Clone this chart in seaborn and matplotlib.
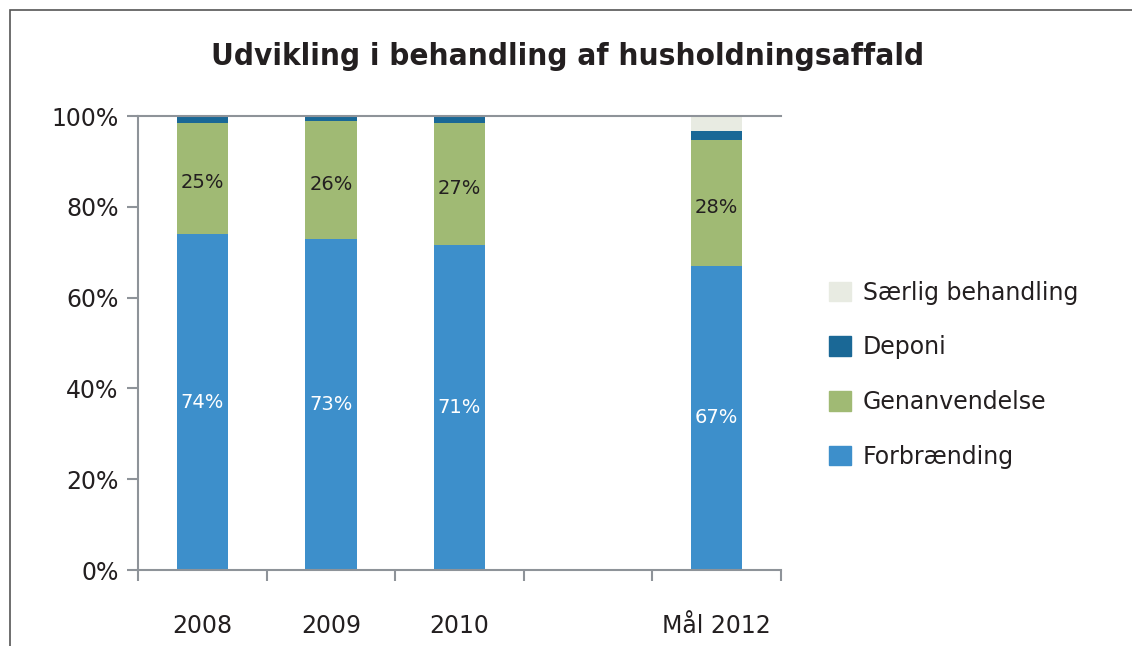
import matplotlib.pyplot as plt
import matplotlib.patches as mpatches
import pandas as pd
import seaborn as sns

# Data (percent of household waste)
years = ["2008", "2009", "2010", "", "Mål 2012"]
forbraending = [74, 73, 71.5, None, 67]
genanvendelse = [24.5, 25.9, 27, None, 27.7]
deponi = [1.3, 0.9, 1.3, None, 2.1]
saerlig = [0.2, 0.2, 0.2, None, 3.2]
labels_forb = ["74%", "73%", "71%", None, "67%"]
labels_gen = ["25%", "26%", "27%", None, "28%"]

series = ["Forbrænding", "Genanvendelse", "Deponi", "Særlig behandling"]
colors = ["#3d8fcb", "#a0ba74", "#1a6896", "#e8ebe2"]

df = pd.DataFrame({"year": years, "Forbrænding": forbraending,
                   "Genanvendelse": genanvendelse, "Deponi": deponi,
                   "Særlig behandling": saerlig}).dropna()

sns.set_style("white")
plt.rcParams['font.family'] = ['DejaVu Sans']

fig = plt.figure(figsize=(11.32, 6.46), dpi=100)
ax = fig.add_axes([0.1219, 0.1176, 0.568, 0.7028])

bottom = pd.Series(0.0, index=df.index)
for name, col in zip(series, colors):
    sns.barplot(x=df["year"], y=df[name], order=years, color=col, width=0.4,
                ax=ax, bottom=bottom.values, saturation=1, linewidth=0)
    bottom = bottom + df[name]

# value labels
for i, y in enumerate(years):
    if labels_forb[i] is None:
        continue
    f = forbraending[i]
    g = genanvendelse[i]
    ax.text(i, f / 2, labels_forb[i], ha="center", va="center",
            color="white", fontsize=14)
    ax.text(i, f + g / 2 - 1, labels_gen[i], ha="center", va="center",
            color="#231f20", fontsize=14)

ax.set_ylim(0, 100)
ax.set_xlim(-0.5, 4.5)
ax.set_yticks([0, 20, 40, 60, 80, 100])
ax.set_yticklabels(["0%", "20%", "40%", "60%", "80%", "100%"], fontsize=17,
                   color="#231f20")
ax.set_xticks([-0.5, 0.5, 1.5, 2.5, 3.5, 4.5])
ax.set_xticklabels([])
ax.set_xticks(range(5), minor=True)
ax.set_xticklabels(years, minor=True, fontsize=17, color="#231f20")
ax.tick_params(axis="x", which="minor", length=0, pad=32)
ax.tick_params(axis="x", which="major", direction="out", length=8,
               color="#8e9399", width=1.5, bottom=True)
ax.tick_params(axis="y", direction="out", length=8, color="#8e9399",
               width=1.5, left=True, pad=6)
ax.set_xlabel("")
ax.set_ylabel("")

for s in ["left", "bottom", "top"]:
    ax.spines[s].set_color("#8e9399")
    ax.spines[s].set_linewidth(1.5)
ax.spines["right"].set_visible(False)

# legend (reversed order, top entry is Særlig behandling)
handles = [mpatches.Patch(color=c, label=n) for n, c in zip(series, colors)]
fig.legend(handles=handles[::-1], loc="center left",
           bbox_to_anchor=(0.714, 0.42), frameon=False, fontsize=17,
           handlelength=0.9, handleheight=0.9, labelspacing=1.3,
           handletextpad=0.5, labelcolor="#231f20")

fig.text(0.501, 0.913, "Udvikling i behandling af husholdningsaffald",
         ha="center", va="center", fontsize=22.5, fontweight="bold",
         fontstretch="condensed", family=["DejaVu Sans"],
         color="#231f20")

# outer frame
fig.patches.append(mpatches.Rectangle((10 / 1132, -0.1), 1.1, 0.1 + 1 - 10 / 646,
                                      transform=fig.transFigure, fill=False,
                                      edgecolor="#555555", linewidth=1.2))

fig.savefig("out.png", dpi=100)
